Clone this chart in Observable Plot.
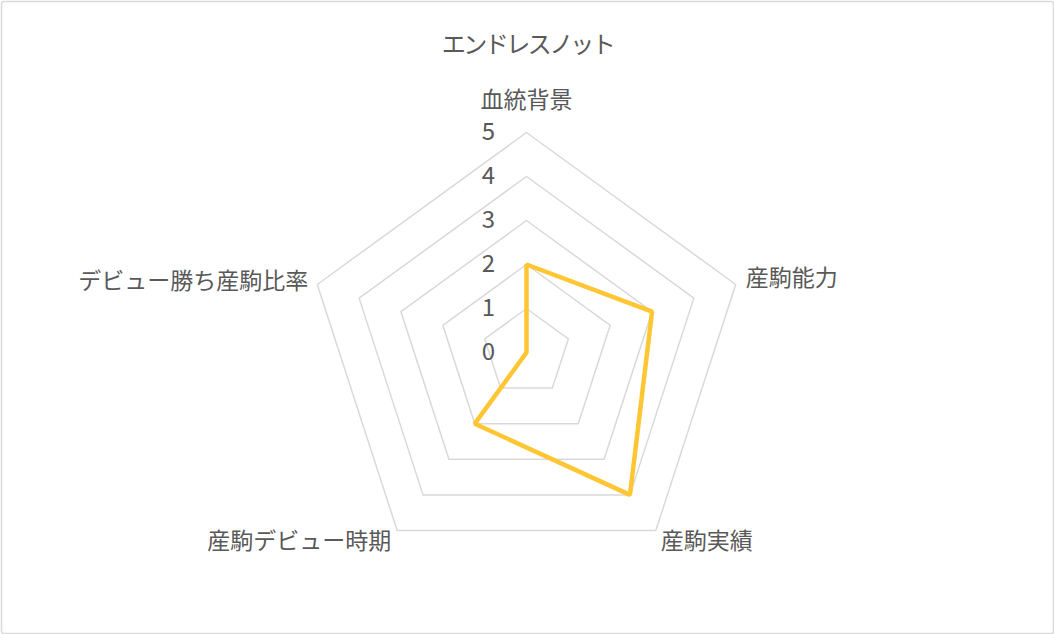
<!DOCTYPE html>
<html>
<head>
<meta charset="utf-8">
<script src="https://cdn.jsdelivr.net/npm/d3@7"></script>
<script src="https://cdn.jsdelivr.net/npm/@observablehq/plot@0.6"></script>
<style>
  html, body { margin: 0; padding: 0; background: #fff; }
  svg { display: block; }
  .title-text text { letter-spacing: -2.5px; }
</style>
</head>
<body>
<div id="chart"></div>
<script>
const title = "エンドレスノット";
const axes = ["血統背景", "産駒能力", "産駒実績", "産駒デビュー時期", "デビュー勝ち産駒比率"];
const values = [2, 3, 4, 2, 0];
const levels = [0, 1, 2, 3, 4, 5];

const W = 1054, H = 634;
const cx = 526, cy = 352, unit = 44; // pixels per value unit
const font = "'Noto Sans CJK JP', 'Noto Sans', sans-serif";
const textColor = "#595959";

const angle = i => Math.PI / 2 - i * 2 * Math.PI / axes.length;
const px = (i, v) => v * Math.cos(angle(i));
const py = (i, v) => v * Math.sin(angle(i));

const gridPts = levels.filter(l => l > 0).flatMap(l =>
  axes.map((a, i) => ({level: l, x: px(i, l), y: py(i, l)})));
const seriesPts = axes.map((a, i) => ({axis: a, value: values[i], x: px(i, values[i]), y: py(i, values[i])}));
const maxLevel = d3.max(levels);
const labelPts = axes.map((a, i) => ({axis: a, i, x: px(i, maxLevel), y: py(i, maxLevel)}));

// label layout (style only)
const labelLayout = [
  {anchor: "middle", dx: 0, dy: -32},
  {anchor: "start", dx: 10, dy: -6},
  {anchor: "start", dx: 5, dy: 11},
  {anchor: "end", dx: -6, dy: 11},
  {anchor: "end", dx: -9, dy: -3}
];

const labelMarks = labelPts.map((d, k) => Plot.text([d], {
  x: "x", y: "y", text: "axis",
  textAnchor: labelLayout[k].anchor, dx: labelLayout[k].dx, dy: labelLayout[k].dy,
  fill: textColor, fontSize: 23, fontFamily: font
}));

const chart = Plot.plot({
  width: W, height: H,
  margin: 0,
  x: {domain: [-cx / unit, (W - cx) / unit], range: [0, W], axis: null},
  y: {domain: [-(H - cy) / unit, cy / unit], range: [H, 0], axis: null},
  style: {background: "#fff", fontFamily: font},
  marks: [
    Plot.frame({stroke: "#d9d9d9", strokeWidth: 1.5, inset: 1, rx: 2}),
    Plot.line(gridPts, {x: "x", y: "y", z: "level", stroke: "#d9d9d9", strokeWidth: 1.5, curve: "linear-closed"}),
    Plot.line(seriesPts, {x: "x", y: "y", stroke: "#FFC633", strokeWidth: 4.5, curve: "linear-closed", strokeLinejoin: "miter"}),
    Plot.text(levels, {x: 0, y: d => d, text: d => String(d), dx: -38, textAnchor: "middle",
      fill: textColor, fontSize: 24, fontFamily: font}),
    ...labelMarks,
    Plot.text([title], {x: 0, y: (cy - 45) / unit, text: d => d, textAnchor: "middle",
      fill: textColor, fontSize: 24, fontFamily: font, dx: 1, className: "title-text"})
  ]
});
document.getElementById("chart").appendChild(chart);
</script>
</body>
</html>
